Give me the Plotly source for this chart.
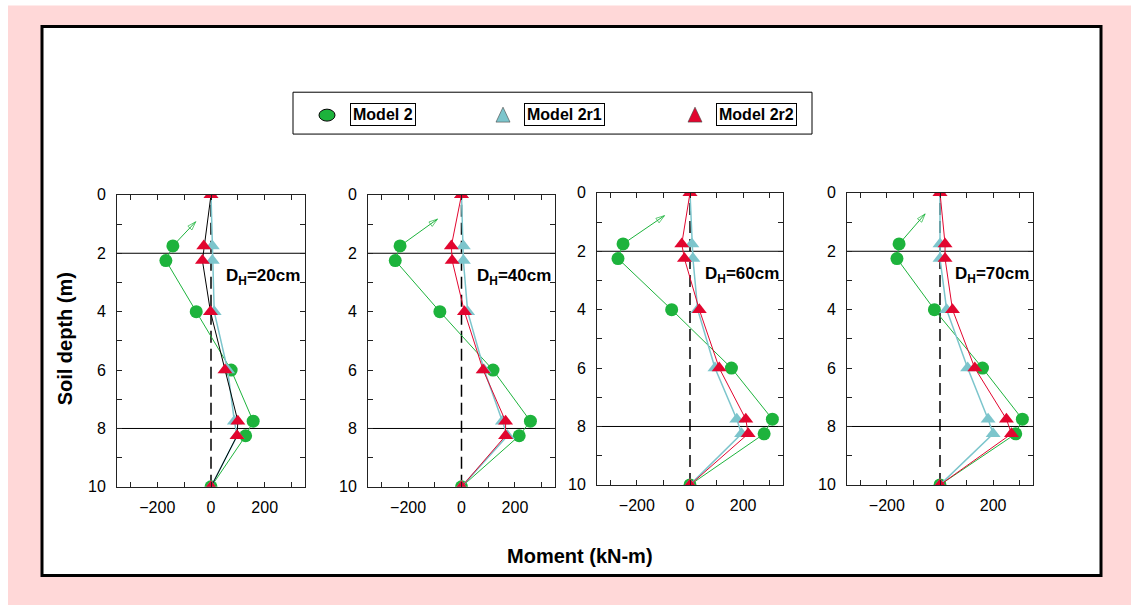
import plotly.graph_objects as go

W, H = 1131, 605

# ---------------- data ----------------
depth_model2 = [1.75, 2.25, 4, 6, 7.75, 8.25, 10]
depth_model2r = [0, 1.75, 2.25, 4, 6, 7.75, 8.25, 10]

panel_labels = ["20cm", "40cm", "60cm", "70cm"]

model2_20 = [-142, -168, -55, 75, 157, 129, 0]
model2r1_20 = [0, 5, 5, 12, 62, 87, 97, 0]
model2r2_20 = [0, -27, -32, -2, 52, 100, 97, 0]

model2_40 = [-230, -248, -81, 118, 258, 216, 0]
model2r1_40 = [0, 7, 7, 23, 85, 153, 172, 0]
model2r2_40 = [0, -38, -35, 11, 81, 165, 165, 0]

model2_60 = [-252, -271, -69, 156, 310, 279, 0]
model2r1_60 = [0, 7, 11, 29, 94, 176, 194, 0]
model2r2_60 = [0, -31, -21, 35, 110, 210, 219, 0]

model2_70 = [-154, -162, -21, 160, 310, 285, 0]
model2r1_70 = [0, 0, 0, 25, 104, 181, 200, 0]
model2r2_70 = [0, 19, 19, 47, 131, 250, 269, 0]

# arrow tips (moment, depth) for each panel
arrow_tip_x = [-57, -90, -96, -56]
arrow_tip_y = [0.92, 0.83, 0.78, 0.72]

model2_all = [model2_20, model2_40, model2_60, model2_70]
model2r1_all = [model2r1_20, model2r1_40, model2r1_60, model2r1_70]
model2r2_all = [model2r2_20, model2r2_40, model2r2_60, model2r2_70]

# ---------------- style ----------------
GREEN = "#1db33c"
CYAN = "#7cc5cc"
RED = "#e2062f"
FONT = "Arial, Liberation Sans, sans-serif"

x_dom_px = [(117, 305), (368, 555), (597, 783), (847, 1033)]
y_dom_px = [(195, 488), (195, 488), (193, 486), (193, 486)]

# vertical mapping of the rendered page (measured from a previous render)
Y_OFF, Y_SPAN = 7.5, 590.0


def px(x):
    return x / W


def py(y):
    return 1 - (y - Y_OFF) / Y_SPAN


fig = go.Figure()

shapes = []
annotations = []

# background decorations
shapes.append(dict(type="rect", xref="paper", yref="paper", x0=px(8), x1=px(1140),
                   y0=py(615), y1=py(5), fillcolor="#ffd8d8", line=dict(width=0), layer="below"))
shapes.append(dict(type="rect", xref="paper", yref="paper", x0=px(42), x1=px(1101),
                   y0=py(577), y1=py(26), fillcolor="white", line=dict(color="black", width=3),
                   layer="below"))

for i in range(4):
    n = i + 1
    xs = "" if n == 1 else str(n)
    xa = "x" + xs
    ya = "y" + xs
    # arrow from first Model 2 point
    fig.add_trace(go.Scatter(
        x=[model2_all[i][0], arrow_tip_x[i]], y=[depth_model2[0], arrow_tip_y[i]],
        xaxis=xa, yaxis=ya, mode="lines+markers", line=dict(color=GREEN, width=1),
        marker=dict(symbol=["circle", "arrow-open"], size=[0, 9], angleref="previous",
                    color=GREEN, line=dict(color=GREEN, width=1)),
        hoverinfo="skip", showlegend=False))
    # green (Model 2)
    fig.add_trace(go.Scatter(
        x=model2_all[i], y=depth_model2, xaxis=xa, yaxis=ya, mode="lines+markers",
        line=dict(color=GREEN, width=1), marker=dict(symbol="circle", size=13, color=GREEN),
        name="Model 2", showlegend=False))
    # cyan (Model 2r1)
    fig.add_trace(go.Scatter(
        x=model2r1_all[i], y=depth_model2r, xaxis=xa, yaxis=ya, mode="lines+markers",
        line=dict(color=CYAN, width=1.5), marker=dict(symbol="triangle-up", size=13, color=CYAN),
        name="Model 2r1", showlegend=False))
    # red (Model 2r2)
    fig.add_trace(go.Scatter(
        x=model2r2_all[i], y=depth_model2r, xaxis=xa, yaxis=ya, mode="lines+markers",
        line=dict(color="black" if i == 0 else RED, width=1),
        marker=dict(symbol="triangle-up", size=13, color=RED),
        name="Model 2r2", showlegend=False))

    x0d, x1d = x_dom_px[i]
    y0d, y1d = y_dom_px[i]
    axis_common = dict(showline=True, linecolor="#222", linewidth=1, mirror="ticks",
                       ticks="inside", ticklen=5, tickcolor="#222", showgrid=False,
                       zeroline=False, tickfont=dict(family=FONT, size=16, color="black"))
    fig.update_layout(**{
        "xaxis" + xs: dict(domain=[px(x0d), px(x1d)], anchor=ya, range=[-350, 350],
                           tick0=0, dtick=200, ticklabelstandoff=6,
                           minor=dict(dtick=100, ticks="inside", ticklen=5, tickcolor="#222"),
                           **axis_common),
        "yaxis" + xs: dict(domain=[py(y1d), py(y0d)], anchor=xa, range=[10, 0],
                           tick0=0, dtick=2, ticklabelstandoff=7,
                           minor=dict(dtick=1, ticks="inside", ticklen=5, tickcolor="#222"),
                           **axis_common),
    })

    # reference lines
    for d in (2, 8):
        shapes.append(dict(type="line", xref=xa + " domain", yref=ya, x0=0, x1=1, y0=d, y1=d,
                           line=dict(color="black", width=1), layer="below"))
    shapes.append(dict(type="line", xref=xa, yref=ya + " domain", x0=0, x1=0, y0=0, y1=1,
                       line=dict(color="black", width=1.5, dash="12px,6px"), layer="below"))

    # D_H label
    annotations.append(dict(x=50, y=2.8, xref=xa, yref=ya, xanchor="left", yanchor="middle",
                            text="D<sub>H</sub>=" + panel_labels[i], showarrow=False,
                            font=dict(family=FONT, size=17, color="black", weight="bold")))

# axis titles
annotations.append(dict(x=px(65), y=py(340), xref="paper", yref="paper", text="Soil depth (m)",
                        textangle=-90, showarrow=False, xanchor="center", yanchor="middle",
                        font=dict(family=FONT, size=20, color="black", weight="bold")))
annotations.append(dict(x=px(580), y=py(557), xref="paper", yref="paper", text="Moment (kN-m)",
                        showarrow=False, xanchor="center", yanchor="middle",
                        font=dict(family=FONT, size=20, color="black", weight="bold")))

# custom legend
shapes.append(dict(type="rect", xref="paper", yref="paper", x0=px(293), x1=px(812),
                   y0=py(134), y1=py(92), line=dict(color="black", width=1), fillcolor="white",
                   layer="below"))
shapes.append(dict(type="circle", xref="paper", yref="paper", x0=px(319), x1=px(335),
                   y0=py(121), y1=py(109), fillcolor=GREEN, line=dict(color="black", width=1)))
for cx, col in ((503, CYAN), (695, RED)):
    path = "M {} {} L {} {} L {} {} Z".format(px(cx - 7), py(122), px(cx + 7), py(122),
                                              px(cx), py(107))
    shapes.append(dict(type="path", xref="paper", yref="paper", path=path, fillcolor=col,
                       line=dict(color="#444", width=0.6)))
for tx, label in ((383, "Model 2"), (564, "Model 2r1"), (756, "Model 2r2")):
    annotations.append(dict(x=px(tx), y=py(114), xref="paper", yref="paper", text=label,
                            xanchor="center", yanchor="middle",
                            showarrow=False, bordercolor="black", borderwidth=1, borderpad=2,
                            font=dict(family=FONT, size=16, color="black", weight="bold")))

fig.update_layout(width=W, height=H, margin=dict(l=0, r=0, t=0, b=0),
                  paper_bgcolor="white", plot_bgcolor="rgba(0,0,0,0)",
                  shapes=shapes, annotations=annotations, showlegend=False)

fig.write_html("out.html")
